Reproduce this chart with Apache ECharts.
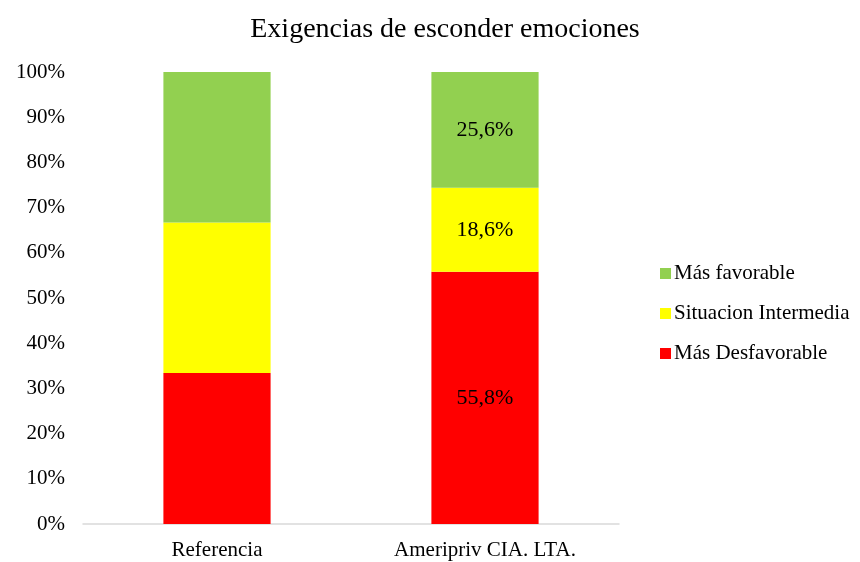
<!DOCTYPE html>
<html>
<head>
<meta charset="utf-8">
<script src="https://cdn.jsdelivr.net/npm/echarts@6/dist/echarts.min.js"></script>
<style>
  html, body { margin: 0; padding: 0; background: #fff; }
  #chart { width: 860px; height: 562px; }
</style>
</head>
<body>
<div id="chart"></div>
<script>
// categorias y valores (%)
const categories = ['Referencia', 'Ameripriv CIA. LTA.']
const desfavorable = [33.4, 55.8]
const intermedia = [33.3, 18.6]
const favorable = [33.3, 25.6]
// solo la segunda barra lleva etiquetas
const showLabel = [false, true]
const yTicks = [0, 10, 20, 30, 40, 50, 60, 70, 80, 90, 100]

const font = '"Liberation Serif", "DejaVu Serif", serif'

function withLabels(values) {
  return values.map((v, i) => ({ value: v, label: { show: showLabel[i] } }))
}

const labelStyle = {
  position: 'inside',
  fontFamily: font,
  fontSize: 22,
  color: '#000',
  formatter: (p) => p.value.toFixed(1).replace('.', ',') + '%',
}

const chart = echarts.init(document.getElementById('chart'))
chart.setOption({
  animation: false,
  title: {
    text: 'Exigencias de esconder emociones',
    left: 440,
    textAlign: 'center',
    top: 11,
    textStyle: { fontFamily: font, fontSize: 28, fontWeight: 'normal', color: '#000' },
  },
  legend: {
    orient: 'vertical',
    left: 655,
    top: 258,
    itemWidth: 11,
    itemHeight: 11,
    itemGap: 19,
    icon: 'rect',
    data: ['Más favorable', 'Situacion Intermedia', 'Más Desfavorable'],
    textStyle: { fontFamily: font, fontSize: 21, color: '#000', padding: [0, 0, 0, -2] },
  },
  grid: { left: 83, right: 241, top: 72, bottom: 38 },
  xAxis: {
    type: 'category',
    data: categories,
    axisLine: { lineStyle: { color: '#d9d9d9', width: 1.5 } },
    axisTick: { show: false },
    axisLabel: { fontFamily: font, fontSize: 21, color: '#000', margin: 16 },
  },
  yAxis: {
    type: 'value',
    min: 0,
    max: 100,
    interval: 10,
    splitLine: { show: false },
    axisLine: { show: false },
    axisTick: { show: false },
    axisLabel: {
      fontFamily: font,
      fontSize: 21,
      color: '#000',
      margin: 18,
      formatter: (v) => (yTicks.includes(v) ? v + '%' : ''),
    },
  },
  series: [
    {
      name: 'Más Desfavorable',
      type: 'bar',
      stack: 'total',
      barWidth: '40%',
      itemStyle: { color: '#ff0000' },
      label: labelStyle,
      data: withLabels(desfavorable),
    },
    {
      name: 'Situacion Intermedia',
      type: 'bar',
      stack: 'total',
      itemStyle: { color: '#ffff00' },
      label: labelStyle,
      data: withLabels(intermedia),
    },
    {
      name: 'Más favorable',
      type: 'bar',
      stack: 'total',
      itemStyle: { color: '#92d050' },
      label: labelStyle,
      data: withLabels(favorable),
    },
  ],
})
</script>
</body>
</html>
